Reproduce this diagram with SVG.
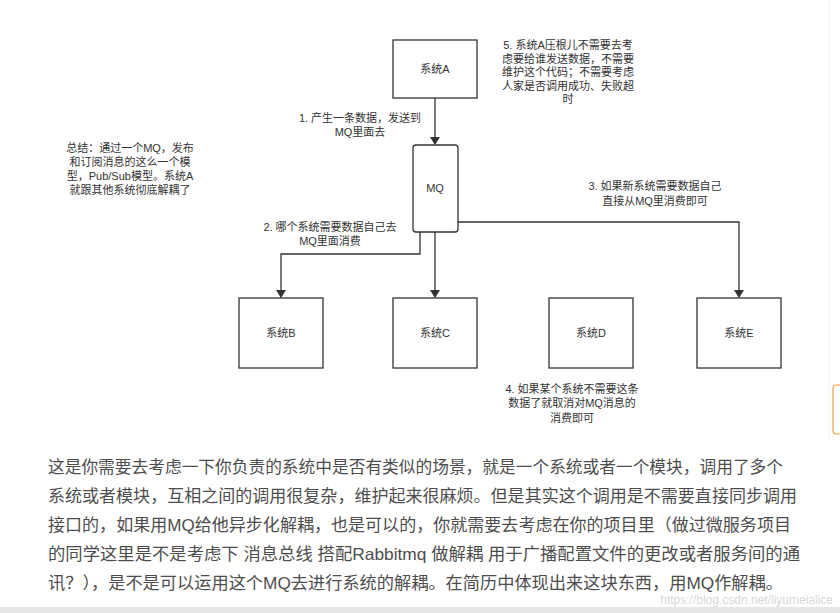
<svg xmlns="http://www.w3.org/2000/svg" width="840" height="613" viewBox="0 0 840 613">
<style>
.box{fill:#fff;stroke:#333;stroke-width:1.3}
.t{font-family:"Liberation Sans","Noto Sans CJK SC",sans-serif;font-size:11px;fill:#333;text-anchor:middle}
.c{fill:none;stroke:#333;stroke-width:1.3}
.p{font-family:"Liberation Sans","Noto Sans CJK SC",sans-serif;font-size:16.5px;fill:#4d4d4d}
</style>
<defs><marker id="ah" markerWidth="8" markerHeight="10" refX="7" refY="5" orient="auto" markerUnits="userSpaceOnUse"><path d="M0,0 L8,5 L0,10 z" fill="#333"/></marker></defs>
<rect width="840" height="613" fill="#fff"/>
<g id="connectors">
<path class="c" d="M435,98 V144" marker-end="url(#ah)"/>
<path class="c" d="M420,232 V254 H281 V297" marker-end="url(#ah)"/>
<path class="c" d="M435,232 V297" marker-end="url(#ah)"/>
<path class="c" d="M458,222 H739 V297" marker-end="url(#ah)"/>
</g>
<g id="sysA"><rect class="box" x="393" y="40" width="84" height="58"/><text class="t" x="435" y="73">系统A</text></g>
<g id="mq"><rect class="box" x="413" y="145" width="45" height="87" rx="3"/><text class="t" x="435" y="192">MQ</text></g>
<g id="sysB"><rect class="box" x="239" y="298" width="84" height="70"/><text class="t" x="281" y="337">系统B</text></g>
<g id="sysC"><rect class="box" x="393" y="298" width="84" height="70"/><text class="t" x="435" y="337">系统C</text></g>
<g id="sysD"><rect class="box" x="549" y="298" width="84" height="70"/><text class="t" x="591" y="337">系统D</text></g>
<g id="sysE"><rect class="box" x="697" y="298" width="84" height="70"/><text class="t" x="739" y="337">系统E</text></g>
<g id="labels">
<text class="t" x="360" y="122">1. 产生一条数据，发送到</text><text class="t" x="360" y="136">MQ里面去</text>
<text class="t" x="130" y="152">总结：通过一个MQ，发布</text><text class="t" x="130" y="166">和订阅消息的这么一个模</text><text class="t" x="130" y="180">型，Pub/Sub模型。系统A</text><text class="t" x="130" y="194">就跟其他系统彻底解耦了</text>
<text class="t" x="330" y="231">2. 哪个系统需要数据自己去</text><text class="t" x="330" y="245">MQ里面消费</text>
<text class="t" x="568" y="49">5. 系统A压根儿不需要去考</text><text class="t" x="568" y="63">虑要给谁发送数据，不需要</text><text class="t" x="568" y="76">维护这个代码；不需要考虑</text><text class="t" x="568" y="90">人家是否调用成功、失败超</text><text class="t" x="568" y="103">时</text>
<text class="t" x="655" y="190">3. 如果新系统需要数据自己</text><text class="t" x="655" y="205">直接从MQ里消费即可</text>
<text class="t" x="572" y="393">4. 如果某个系统不需要这条</text><text class="t" x="572" y="407">数据了就取消对MQ消息的</text><text class="t" x="572" y="422">消费即可</text>
</g>
<g id="paragraph">
<text class="p" x="48" y="473" textLength="735" lengthAdjust="spacingAndGlyphs">这是你需要去考虑一下你负责的系统中是否有类似的场景，就是一个系统或者一个模块，调用了多个</text>
<text class="p" x="48" y="502" textLength="749" lengthAdjust="spacingAndGlyphs">系统或者模块，互相之间的调用很复杂，维护起来很麻烦。但是其实这个调用是不需要直接同步调用</text>
<text class="p" x="48" y="531" textLength="743" lengthAdjust="spacingAndGlyphs">接口的，如果用MQ给他异步化解耦，也是可以的，你就需要去考虑在你的项目里（做过微服务项目</text>
<text class="p" x="48" y="560" textLength="752" lengthAdjust="spacingAndGlyphs">的同学这里是不是考虑下  消息总线 搭配Rabbitmq 做解耦 用于广播配置文件的更改或者服务间的通</text>
<text class="p" x="48" y="589" textLength="735" lengthAdjust="spacingAndGlyphs">讯？），是不是可以运用这个MQ去进行系统的解耦。在简历中体现出来这块东西，用MQ作解耦。</text>
</g>
<text x="833" y="604" font-family="Liberation Sans, sans-serif" font-size="12" fill="#d8d8d8" text-anchor="end">https://blog.csdn.net/liyumeialice</text>
<rect x="0" y="607" width="840" height="6" fill="#e6e6e6"/>
<line x1="829" y1="0" x2="829" y2="440" stroke="#eee"/>
<path d="M840,385 H836 Q833,385 833,389 V430 Q833,434 836,434 H840" fill="none" stroke="#f0a040" stroke-width="1.2"/>
</svg>
